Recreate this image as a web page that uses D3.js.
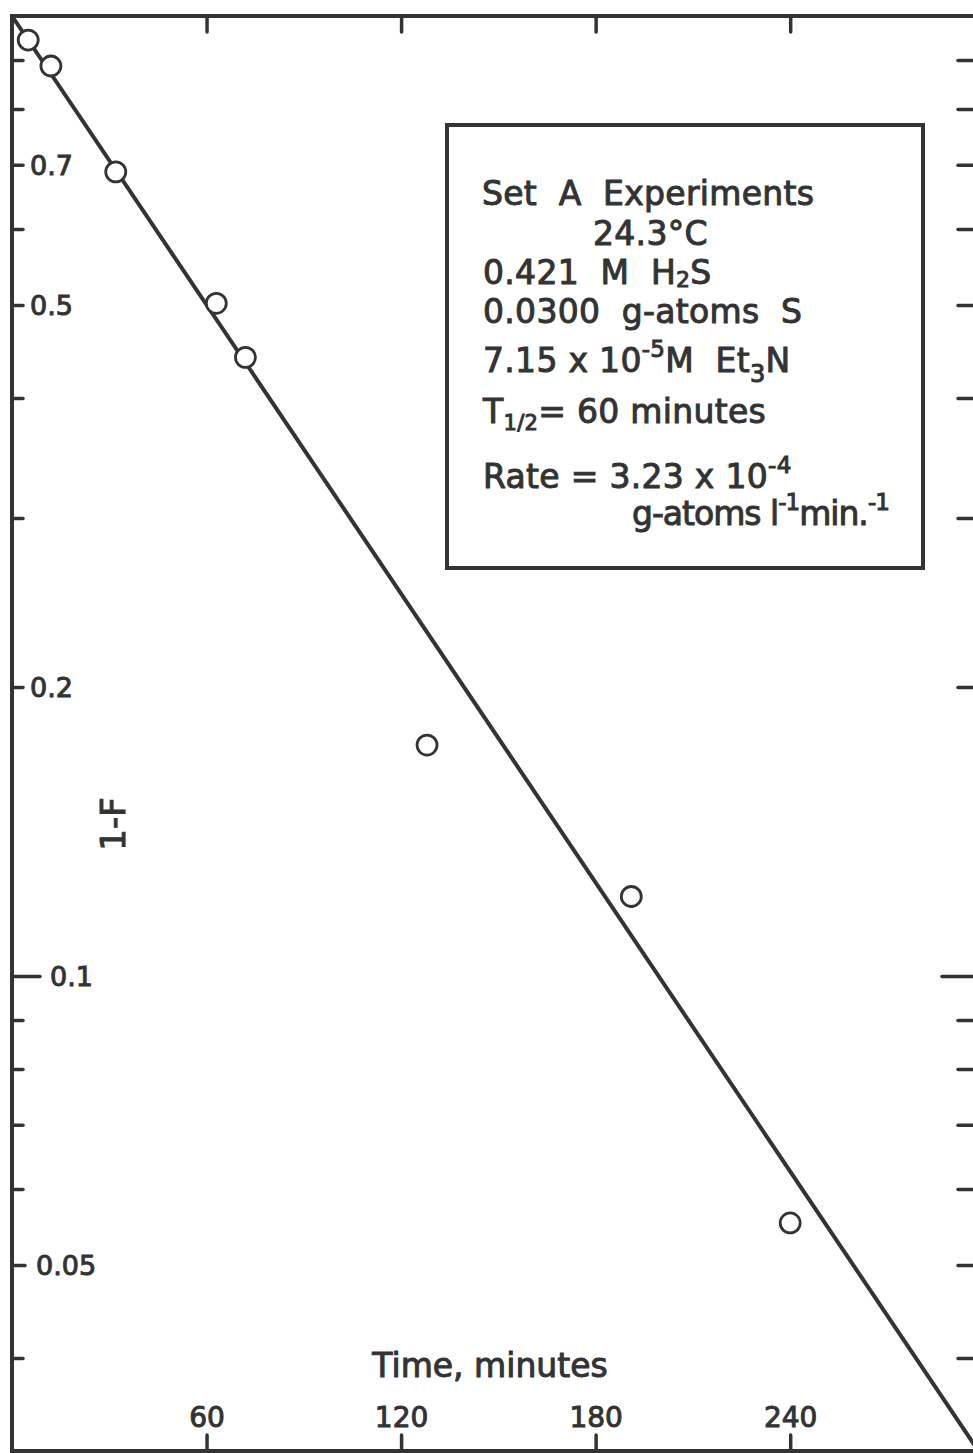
<!DOCTYPE html>
<html>
<head>
<meta charset="utf-8">
<script src="https://cdn.jsdelivr.net/npm/d3@7"></script>
<style>
	body { margin: 0; background: #fff; }
	text { font-family: "DejaVu Sans", sans-serif; fill: #333; stroke: #333; stroke-width: 1px; }
</style>
</head>
<body>
<script>
// Measured points, time in minutes and 1-F
const times = [5, 12, 32, 63, 72, 128, 191, 240];
const fractions = [0.944, 0.887, 0.688, 0.502, 0.441, 0.174, 0.121, 0.0553];

// Fitted line end points
const fitTimes = [0, 297];
const fitValues = [1.0, 0.0324];

const xTicks = [60, 120, 180, 240];
const yTicks = [0.9, 0.8, 0.7, 0.6, 0.5, 0.4, 0.3, 0.2, 0.1, 0.09, 0.08, 0.07, 0.06, 0.05, 0.04];
const yLabels = [0.7, 0.5, 0.2, 0.1, 0.05];
const majorTick = 0.1;

// Legend box lines: [text, kind] segments
const boxLines = [
	[["Set  A  Experiments"]],
	[["24.3°C"]],
	[["0.421  M  H"], ["2", "sub"], ["S"]],
	[["0.0300  g-atoms  S"]],
	[["7.15 x 10"], ["-5", "sup"], ["M  Et"], ["3", "sub"], ["N"]],
	[["T"], ["1/2", "sub"], ["= 60 minutes"]],
	[["Rate = 3.23 x 10"], ["-4", "sup"]],
	[["g-atoms l"], ["-1", "sup"], ["min."], ["-1", "sup"]]
];

const width = 973, height = 1453;
const margin = { top: 16, left: 12, right: 975, bottom: 1451 };
const ink = "#333";

const svg = d3.select("body").append("svg")
	.attr("width", width)
	.attr("height", height);

const x = d3.scaleLinear()
	.domain([0, 297])
	.range([margin.left, margin.right]);

const y = d3.scaleLog()
	.domain([1, 0.032])
	.range([margin.top, margin.bottom]);

// Frame
svg.append("rect")
	.attr("x", margin.left)
	.attr("y", margin.top)
	.attr("width", margin.right - margin.left)
	.attr("height", margin.bottom - margin.top)
	.attr("fill", "none")
	.attr("stroke", ink)
	.attr("stroke-width", 4);

function styleAxis(g) {
	g.select(".domain").remove();
	g.selectAll("line")
		.attr("stroke", ink)
		.attr("stroke-width", 3.5)
		.attr("stroke-linecap", "round");
}

// Left axis
const yAxisLeft = d3.axisRight(y)
	.tickValues(yTicks)
	.tickSize(11)
	.tickPadding(7)
	.tickFormat(d => yLabels.includes(d) ? String(d) : "");

const leftAxis = svg.append("g")
	.attr("transform", "translate(" + margin.left + ",0)")
	.call(yAxisLeft)
	.call(styleAxis);

leftAxis.selectAll("text")
	.attr("font-size", "27px")
	.attr("font-family", null)
	.attr("fill", null)
	.attr("stroke-width", 1.3)
	.attr("dy", "0.36em");

leftAxis.selectAll(".tick").filter(d => d === majorTick)
	.call(t => t.select("line").attr("x2", 28))
	.call(t => t.select("text").attr("x", 38));

leftAxis.selectAll(".tick").filter(d => d === 0.05)
	.call(t => t.select("line").attr("x2", 13))
	.call(t => t.select("text").attr("x", 24));

// Right axis
const rightAxis = svg.append("g")
	.attr("transform", "translate(" + margin.right + ",0)")
	.call(d3.axisLeft(y).tickValues(yTicks).tickSize(17).tickFormat(""))
	.call(styleAxis);

rightAxis.selectAll(".tick").filter(d => d === majorTick)
	.select("line").attr("x2", -33);

// Top axis
svg.append("g")
	.attr("transform", "translate(0," + margin.top + ")")
	.call(d3.axisBottom(x).tickValues(xTicks).tickSize(16).tickFormat(""))
	.call(styleAxis);

// Bottom axis
const bottomAxis = svg.append("g")
	.attr("transform", "translate(0," + margin.bottom + ")")
	.call(d3.axisTop(x).tickValues(xTicks).tickSize(16).tickPadding(8))
	.call(styleAxis);

bottomAxis.selectAll("text")
	.attr("font-size", "28px")
	.attr("font-family", null)
	.attr("fill", null)
	.attr("stroke-width", 1.3);

// Axis titles
svg.append("text")
	.attr("x", 490)
	.attr("y", 1377)
	.attr("text-anchor", "middle")
	.attr("font-size", "33px")
	.text("Time, minutes");

svg.append("text")
	.attr("transform", "translate(125,824) rotate(-90)")
	.attr("text-anchor", "middle")
	.attr("font-size", "34px")
	.text("1-F");

// Fitted line
const fit = fitTimes.map((t, i) => ({ t: t, v: fitValues[i] }));
svg.append("path")
	.datum(fit)
	.attr("d", d3.line().x(d => x(d.t)).y(d => y(d.v)))
	.attr("fill", "none")
	.attr("stroke", ink)
	.attr("stroke-width", 4);

// Points
svg.selectAll(".point")
	.data(times.map((t, i) => ({ t: t, v: fractions[i] })))
	.enter()
	.append("circle")
	.attr("class", "point")
	.attr("cx", d => x(d.t))
	.attr("cy", d => y(d.v))
	.attr("r", 10)
	.attr("fill", "#fff")
	.attr("stroke", ink)
	.attr("stroke-width", 2.8);

// Legend box
svg.append("rect")
	.attr("x", 447)
	.attr("y", 125)
	.attr("width", 476)
	.attr("height", 443)
	.attr("fill", "#fff")
	.attr("stroke", ink)
	.attr("stroke-width", 4);

const lineX = [482, 593, 483, 483, 483, 483, 483, 632];
const lineY = [205, 245, 284, 323, 372, 423, 488, 525];
const shift = { sub: 3, sup: -15 };
const subSize = { sub: "22px", sup: "23px" };

boxLines.forEach((segs, i) => {
	const txt = svg.append("text")
		.attr("x", lineX[i])
		.attr("y", lineY[i])
		.attr("font-size", "33px")
		.attr("letter-spacing", "0.3px")
		.style("white-space", "pre");
	if (i === boxLines.length - 1) txt.attr("letter-spacing", "-1px");
	let offset = 0;
	segs.forEach(s => {
		const kind = s[1];
		let want = kind ? shift[kind] : 0;
		if (kind === "sub" && s[0] === "3") want = 10;
		if (kind === "sub" && s[0] === "1/2") want = 7;
		const sp = txt.append("tspan")
			.attr("dy", want - offset)
			.text(s[0]);
		if (kind) sp.attr("font-size", s[0] === "1/2" ? "21px" : (s[0] === "3" ? "24px" : subSize[kind]));
		offset = want;
	});
});
</script>
</body>
</html>
